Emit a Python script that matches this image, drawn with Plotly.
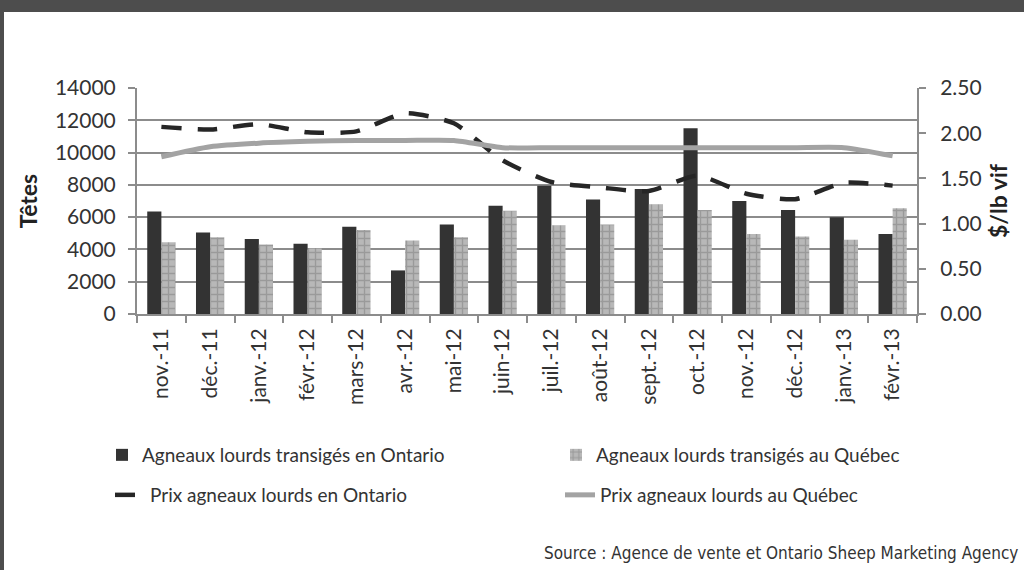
import plotly.graph_objects as go

months = ["nov.-11", "déc.-11", "janv.-12", "févr.-12", "mars-12", "avr.-12", "mai-12", "juin-12",
          "juil.-12", "août-12", "sept.-12", "oct.-12", "nov.-12", "déc.-12", "janv.-13", "févr.-13"]
tetes_ontario = [6350, 5050, 4650, 4350, 5400, 2700, 5550, 6700,
                 7950, 7100, 7750, 11500, 7000, 6450, 6000, 4950]
tetes_quebec = [4450, 4750, 4300, 4050, 5200, 4550, 4750, 6400,
                5500, 5550, 6800, 6450, 4950, 4800, 4600, 6550]
prix_ontario = [2.07, 2.04, 2.10, 2.01, 2.02, 2.22, 2.11, 1.70,
                1.46, 1.40, 1.36, 1.53, 1.33, 1.27, 1.45, 1.42]
prix_quebec = [1.74, 1.85, 1.89, 1.91, 1.92, 1.92, 1.92, 1.84,
               1.84, 1.84, 1.84, 1.84, 1.84, 1.84, 1.84, 1.75]
left_ticks = [0, 2000, 4000, 6000, 8000, 10000, 12000, 14000]
right_ticks = [0, 0.5, 1.0, 1.5, 2.0, 2.5]

FONT = "Lato"
L, R, T, B = 137, 917, 88, 314
W, H = 1024, 570

fig = go.Figure()
fig.add_trace(go.Bar(x=months, y=tetes_ontario, name="Agneaux lourds transigés en Ontario",
                     marker=dict(color="#333333", line=dict(width=0)), legend="legend"))
fig.add_trace(go.Bar(x=months, y=tetes_quebec, name="Agneaux lourds transigés au Québec",
                     marker=dict(color="#b8b8b8", line=dict(width=0),
                                 pattern=dict(shape="+", fgcolor="#7c7c7c", size=7, solidity=0.35)),
                     legend="legend"))
fig.add_trace(go.Scatter(x=months, y=prix_ontario, name="Prix agneaux lourds en Ontario", yaxis="y2",
                         mode="lines", line=dict(color="#262626", width=4.5, dash="20px,16px",
                                                 shape="spline", smoothing=0.6), legend="legend2"))
fig.add_trace(go.Scatter(x=months, y=prix_quebec, name="Prix agneaux lourds au Québec", yaxis="y2",
                         mode="lines", line=dict(color="#a3a3a3", width=5,
                                                 shape="spline", smoothing=0.6), legend="legend2"))

def px_x(p):
    return (p - L) / (R - L)

def px_y(p):
    return (B - p) / (B - T)

legend_common = dict(orientation="h", xanchor="left", yanchor="middle",
                     font=dict(size=19, color="#333333"), bgcolor="rgba(0,0,0,0)",
                     traceorder="normal")

fig.update_layout(
    width=W, height=H,
    margin=dict(l=L, r=W - R, t=T, b=H - B),
    paper_bgcolor="#4d4d4d",
    plot_bgcolor="white",
    barmode="group", bargap=0.42, bargroupgap=0,
    font=dict(family=FONT, size=21, color="#333333"),
    xaxis=dict(type="category", tickangle=-90, showgrid=False, showline=True, linecolor="#8c8c8c",
               linewidth=2, ticks="outside", tickson="boundaries", ticklen=7, tickcolor="#8c8c8c",
               tickwidth=2, ticklabelstandoff=4, tickfont=dict(size=21, color="#333333"),
               range=[-0.5, 15.5]),
    yaxis=dict(range=[0, 14000], tickvals=left_ticks, ticktext=[str(v) for v in left_ticks],
               showgrid=True, gridcolor="#8c8c8c", gridwidth=2, showline=True, linecolor="#8c8c8c",
               linewidth=2, ticks="outside", ticklen=7, tickcolor="#8c8c8c", tickwidth=2,
               ticklabelstandoff=8,
               zeroline=False, tickfont=dict(size=21, color="#333333"),
               title=dict(text="<b>Têtes</b>", font=dict(size=23, color="#222222"), standoff=11)),
    yaxis2=dict(range=[0, 2.5], tickvals=right_ticks, ticktext=[f"{v:.2f}" for v in right_ticks],
                overlaying="y", side="right", showgrid=False, showline=True, linecolor="#8c8c8c",
                linewidth=2, ticks="outside", ticklen=7, tickcolor="#8c8c8c", tickwidth=2,
                ticklabelstandoff=10,
                zeroline=False, tickfont=dict(size=21, color="#333333"),
                title=dict(text="<b>$/lb vif</b>", font=dict(size=23, color="#222222"), standoff=10)),
    legend=dict(x=px_x(102), y=px_y(455), entrywidth=409, **legend_common),
    legend2=dict(x=px_x(110), y=px_y(495), entrywidth=405, **legend_common),
    showlegend=True,
    shapes=[dict(type="rect", xref="paper", yref="paper", layer="below",
                 x0=px_x(4), x1=px_x(1030), y0=px_y(12), y1=px_y(580),
                 fillcolor="white", line=dict(width=0))],
    annotations=[dict(text="Source : Agence de vente et Ontario Sheep Marketing Agency",
                      xref="paper", yref="paper", x=px_x(1020), y=px_y(553), xanchor="right",
                      yanchor="middle", showarrow=False,
                      font=dict(family="DejaVu Sans Condensed, Liberation Sans", size=17,
                                color="#333333"))],
)

fig.write_html("out.html", config={"displayModeBar": False},
               post_script="document.body.style.margin='0';document.body.style.overflow='hidden';")
